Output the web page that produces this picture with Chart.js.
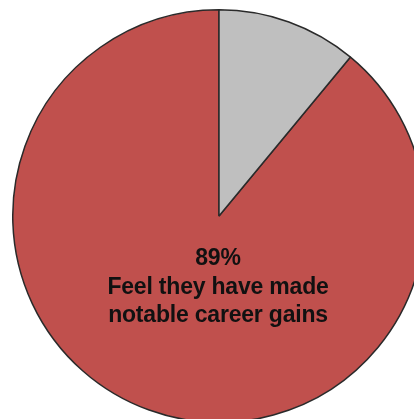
<!DOCTYPE html>
<html>
<head>
<meta charset="utf-8">
<script src="https://cdn.jsdelivr.net/npm/chart.js@4/dist/chart.umd.min.js"></script>
<style>
  html, body { margin: 0; padding: 0; background: #fff; overflow: hidden; }
  body { width: 414px; height: 419px; position: relative; }
  #wrap { position: absolute; left: 12px; top: 9px; width: 414px; height: 414px; }
</style>
</head>
<body>
<div id="wrap"><canvas id="pie" width="414" height="414"></canvas></div>
<script>
  const categories = ['Feel they have made notable career gains', 'Other'];
  const shares = [89, 11];
  const sliceColors = ['#c0504d', '#bfbfbf'];
  const centerLines = ['89%', 'Feel they have made', 'notable career gains'];

  // label sits inside the big slice, below the centre
  const centerLabel = {
    id: 'centerLabel',
    afterDatasetsDraw(chart) {
      const arc = chart.getDatasetMeta(0).data[0];
      const { ctx } = chart;
      ctx.save();
      ctx.fillStyle = '#111';
      ctx.font = 'bold 23px "Liberation Sans", Arial, sans-serif';
      ctx.letterSpacing = '-0.2px';
      ctx.textAlign = 'center';
      ctx.textBaseline = 'alphabetic';
      centerLines.forEach((line, i) => {
        ctx.fillText(line, arc.x - 1, arc.y + 49 + i * 28.5);
      });
      ctx.restore();
    },
  };

  new Chart(document.getElementById('pie'), {
    type: 'pie',
    data: {
      labels: categories,
      datasets: [
        {
          data: shares,
          backgroundColor: sliceColors,
          borderColor: '#2a2a2a',
          borderWidth: 1.5,
        },
      ],
    },
    options: {
      responsive: false,
      animation: false,
      rotation: 39.6,
      layout: { padding: 0 },
      plugins: {
        legend: { display: false },
        tooltip: { enabled: false },
      },
    },
    plugins: [centerLabel],
  });
</script>
</body>
</html>
